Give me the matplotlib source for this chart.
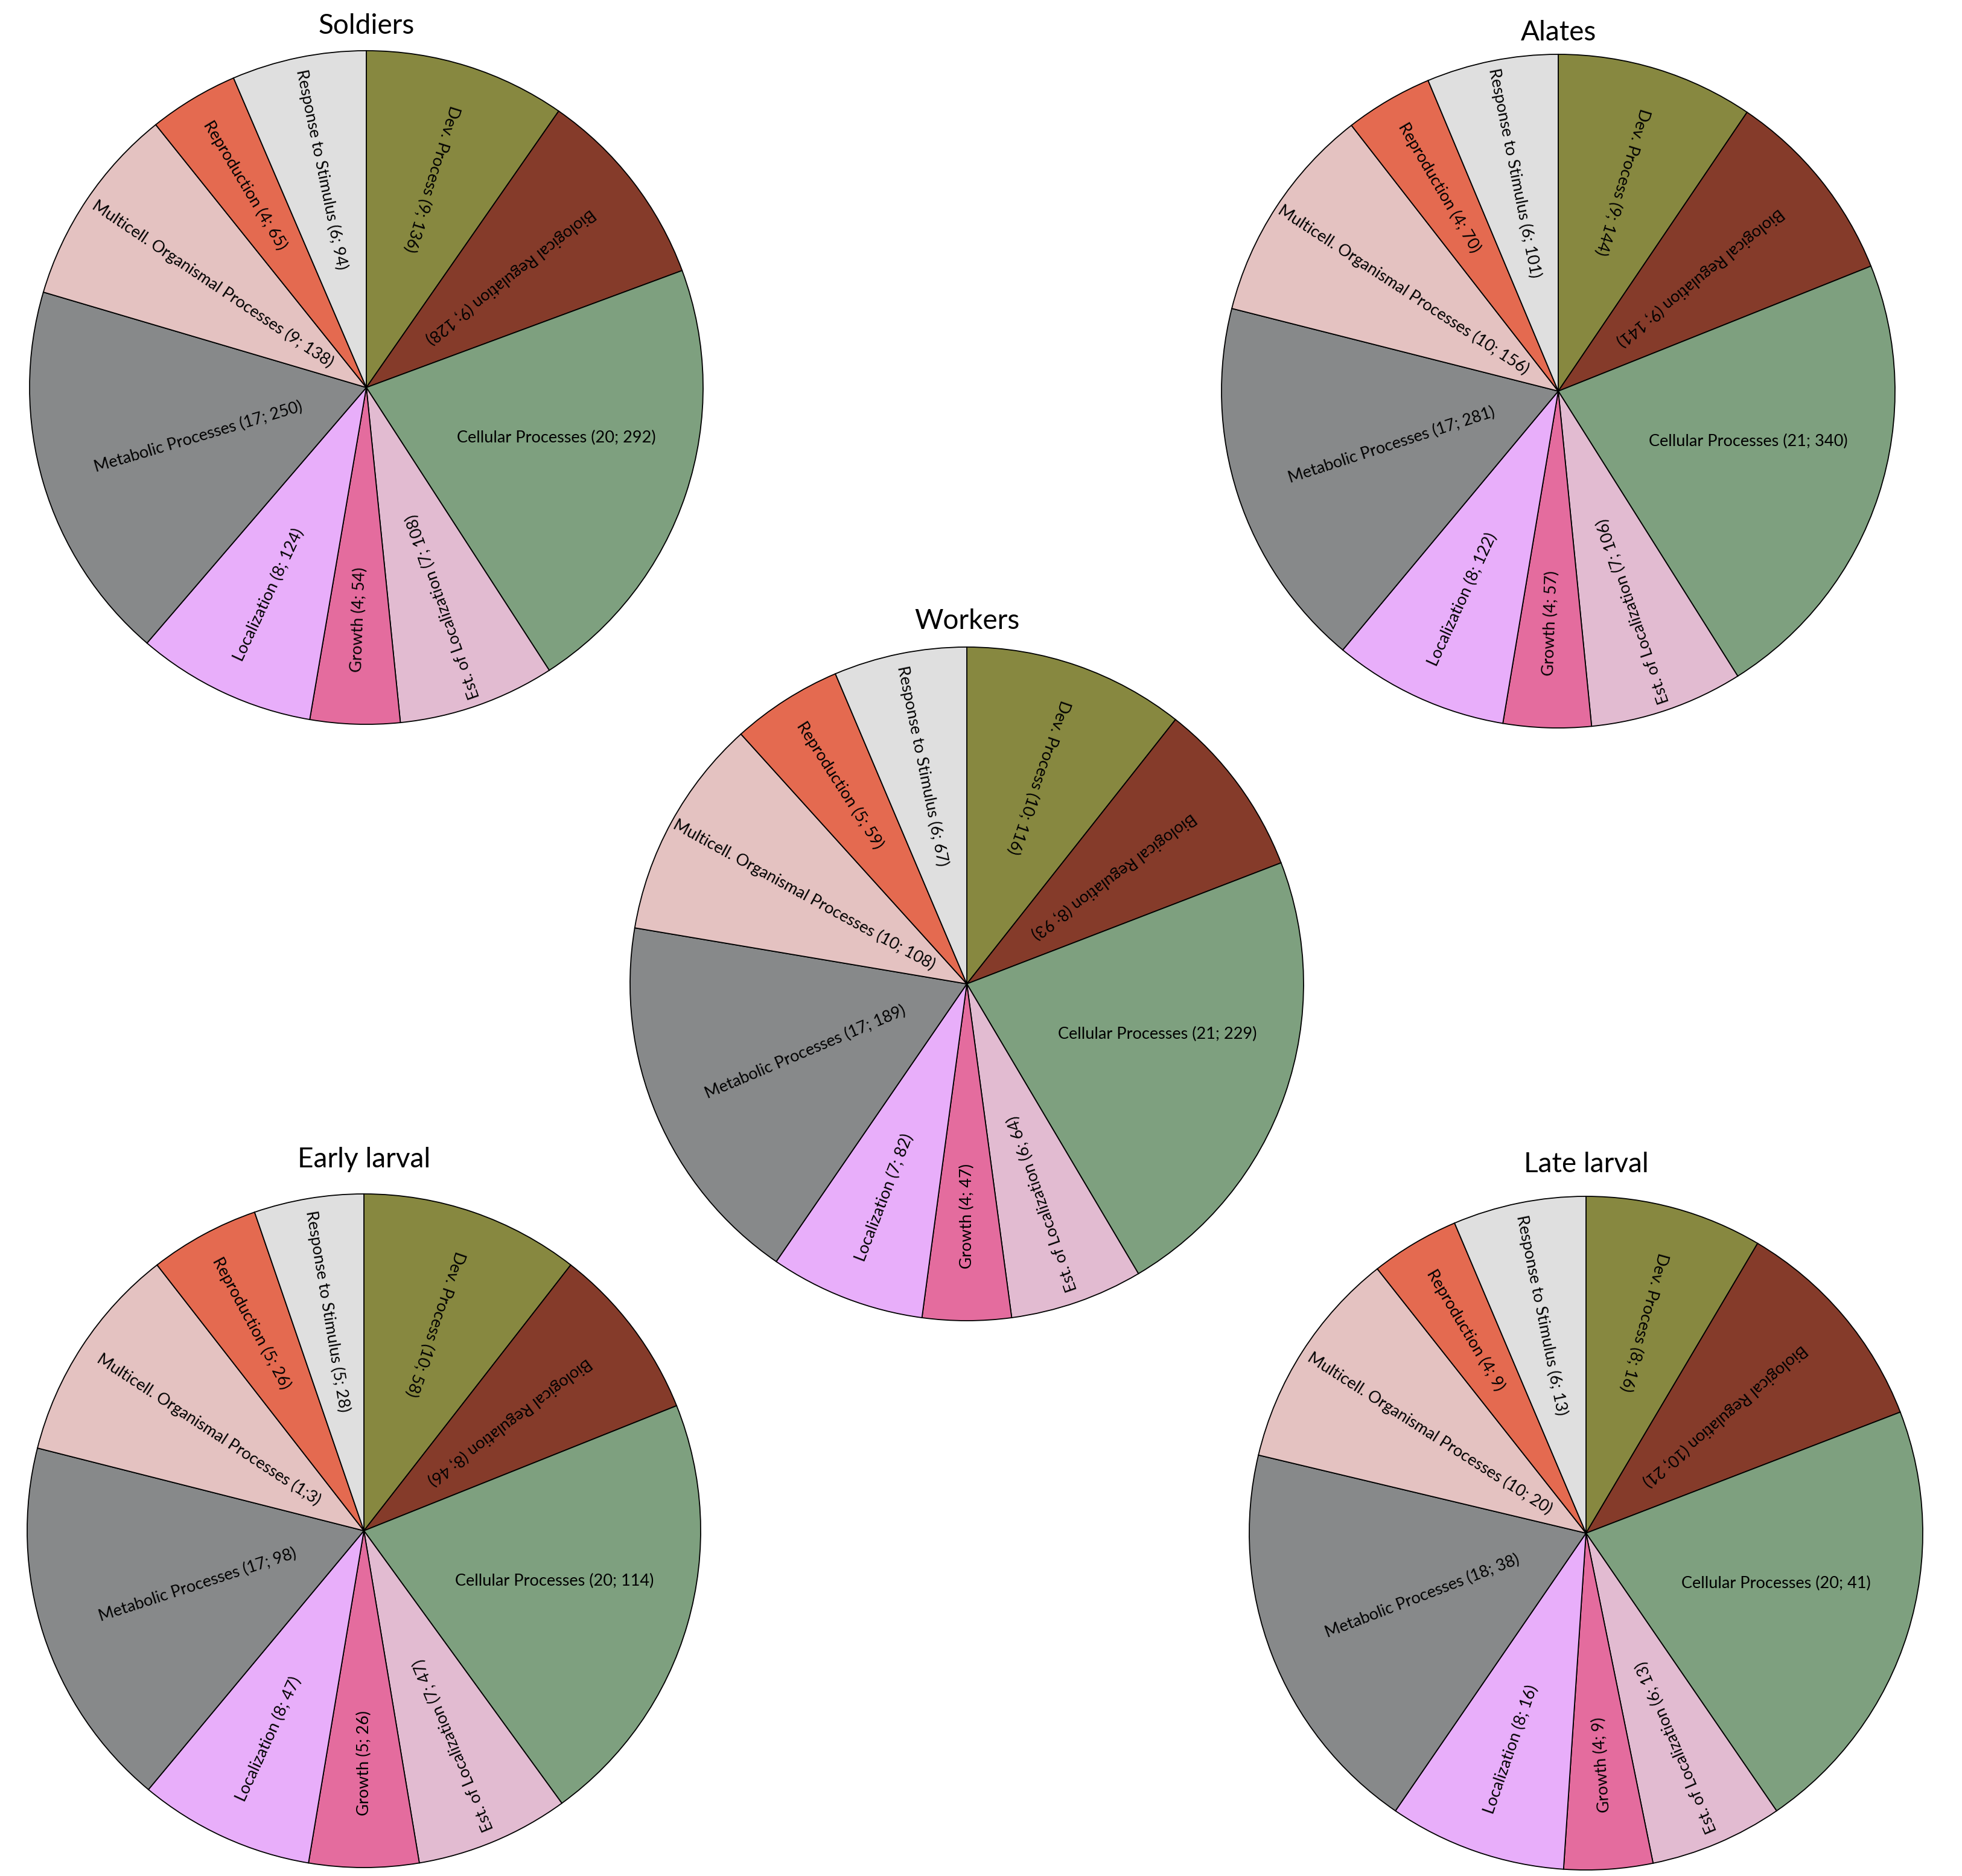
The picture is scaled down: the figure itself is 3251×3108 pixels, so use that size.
import numpy as np
import matplotlib
matplotlib.use('Agg')
import matplotlib.pyplot as plt

plt.rcParams['font.family'] = ['Lato', 'DejaVu Sans']

# GO categories, clockwise from 12 o'clock
categories = ['Dev. Process', 'Biological Regulation', 'Cellular Processes',
              'Est. of Localization', 'Growth', 'Localization',
              'Metabolic Processes', 'Multicell. Organismal Processes',
              'Reproduction', 'Response to Stimulus']
colors = ['#878840', '#853b2a', '#7ea07f', '#e2bbd1', '#e46c9e',
          '#e8aefa', '#87898a', '#e4c2c1', '#e46a50', '#dfdfdf']

# (percent; gene count) as printed in the labels
soldiers_pct = [9, 9, 20, 7, 4, 8, 17, 9, 4, 6]
soldiers_n = [136, 128, 292, 108, 54, 124, 250, 138, 65, 94]
alates_pct = [9, 9, 21, 7, 4, 8, 17, 10, 4, 6]
alates_n = [144, 141, 340, 106, 57, 122, 281, 156, 70, 101]
workers_pct = [10, 8, 21, 6, 4, 7, 17, 10, 5, 6]
workers_n = [116, 93, 229, 64, 47, 82, 189, 108, 59, 67]
early_pct = [10, 8, 20, 7, 5, 8, 17, 1, 5, 5]
early_n = [58, 46, 114, 47, 26, 47, 98, 3, 26, 28]
late_pct = [8, 10, 20, 6, 4, 8, 18, 10, 4, 6]
late_n = [16, 21, 41, 13, 9, 16, 38, 20, 9, 13]

# the early larval Multicell slice is drawn at ~10 % although its label says 1
early_size = [10, 8, 20, 7, 5, 8, 17, 10, 5, 5]

W, H = 3251, 3108
R = 558

# name, pct, counts, slice sizes, centre in picture pixels, title gap
pies = [
    ('Soldiers', soldiers_pct, soldiers_n, soldiers_pct, (607, 642), 28),
    ('Alates', alates_pct, alates_n, alates_pct, (2582, 648), 23),
    ('Workers', workers_pct, workers_n, workers_pct, (1602, 1630), 30),
    ('Early larval', early_pct, early_n, early_size, (603, 2536), 44),
    ('Late larval', late_pct, late_n, late_pct, (2628, 2540), 40),
]

# how far out along the slice each rotated label sits (fraction of radius)
label_r = [0.65, 0.54, 0.0, 0.69, 0.69, 0.68, 0.52, 0.55, 0.70, 0.66]

fig = plt.figure(figsize=(W / 100, H / 100), dpi=100)
ax = fig.add_axes([0, 0, 1, 1])

for name, pct, n, size, (cx, cy), gap in pies:
    c = (cx, H - cy)
    wedges, _ = ax.pie(size, colors=colors, startangle=90, counterclock=False,
                       center=c, radius=R,
                       wedgeprops=dict(edgecolor='black', linewidth=1.3))
    ax.text(c[0], c[1] + R + gap, name, ha='center', va='baseline', fontsize=33)

    for i, w in enumerate(wedges):
        txt = '%s (%d; %d)' % (categories[i], pct[i], n[i])
        if name == 'Early larval' and i == 7:
            txt = '%s (%d;%d)' % (categories[i], pct[i], n[i])
        if i == 2:
            # cellular label is kept horizontal
            ax.text(c[0] + 0.565 * R, c[1] - 0.15 * R, txt, ha='center',
                    va='center', fontsize=19.5)
            continue
        mid = (w.theta1 + w.theta2) / 2.0
        a = np.deg2rad(mid)
        x = c[0] + label_r[i] * R * np.cos(a)
        y = c[1] + label_r[i] * R * np.sin(a)
        ax.text(x, y, txt, ha='center', va='center', fontsize=19.5,
                rotation=(mid + 180) % 360, rotation_mode='anchor')

ax.set_xlim(0, W)
ax.set_ylim(0, H)
ax.set_aspect('equal')
ax.axis('off')

plt.savefig('out.png', dpi=100)
